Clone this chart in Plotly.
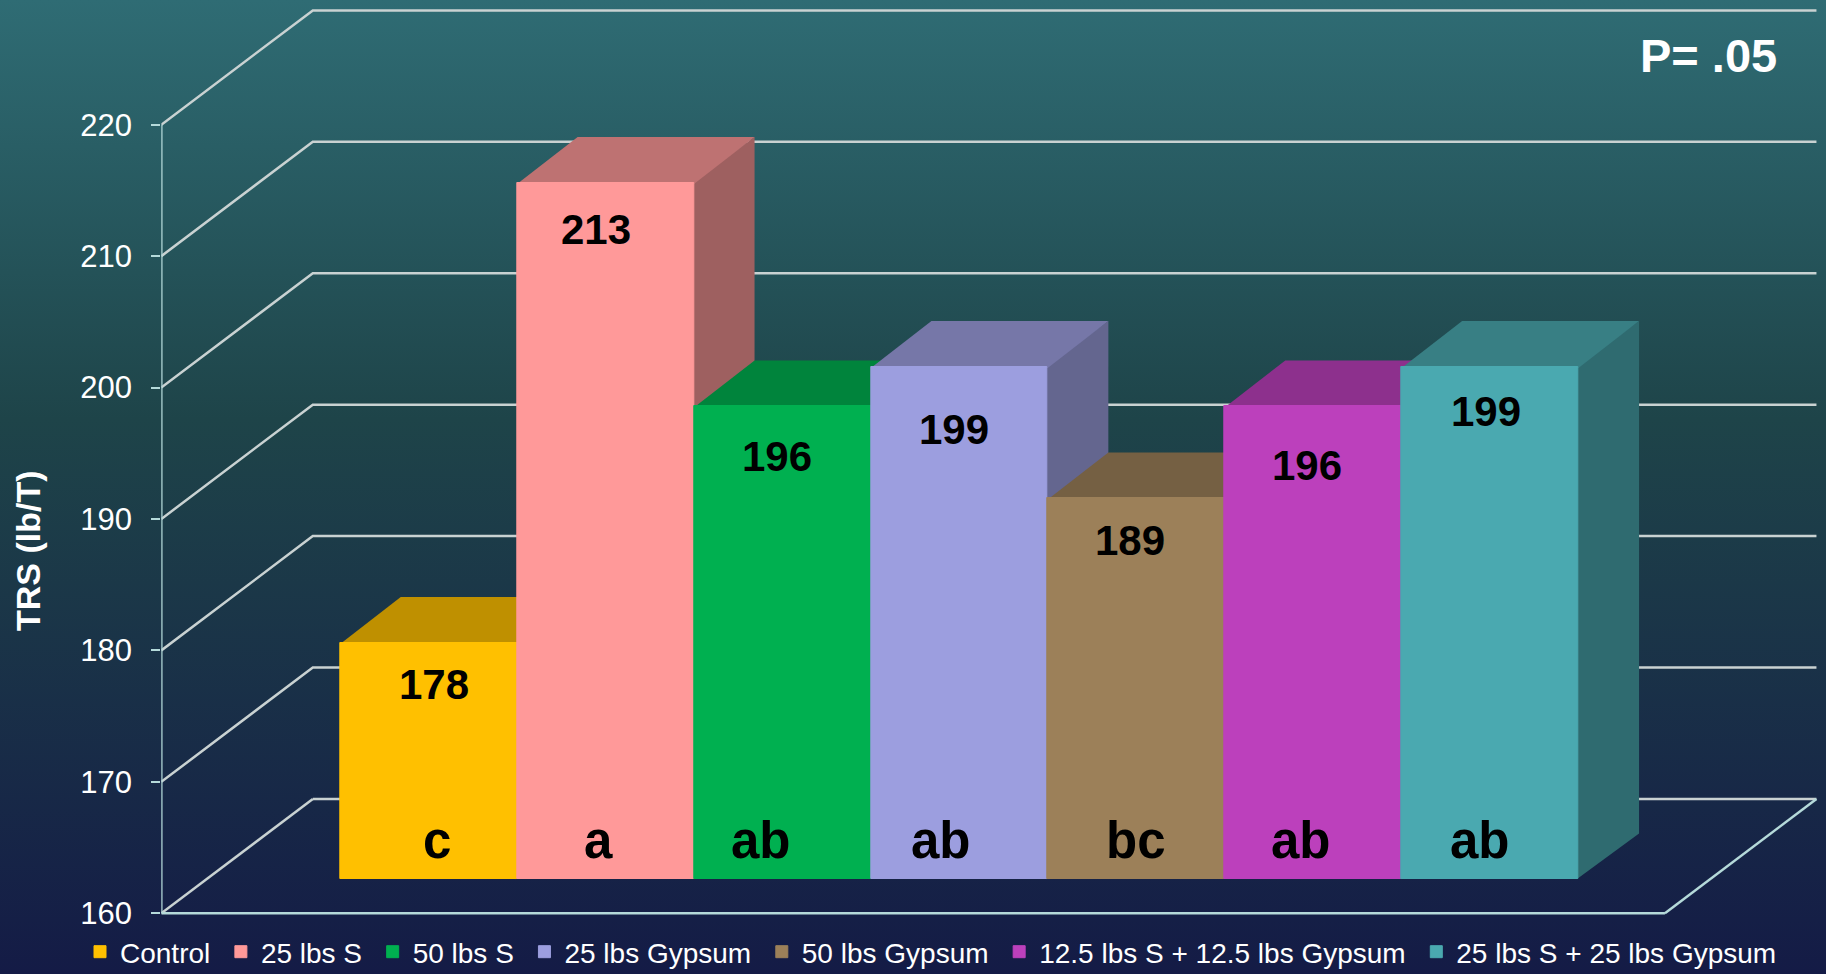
import base64
import plotly.graph_objects as go

categories = ["Control", "25 lbs S", "50 lbs S", "25 lbs Gypsum", "50 lbs Gypsum",
              "12.5 lbs S + 12.5 lbs Gypsum", "25 lbs S + 25 lbs Gypsum"]
values = [178, 213, 196, 199, 189, 196, 199]
letters = ["c", "a", "ab", "ab", "bc", "ab", "ab"]
y_ticks = [160, 170, 180, 190, 200, 210, 220]

front_colors = ["#FFC000", "#FF9999", "#00B050", "#9C9EDF", "#9C8059", "#BC40BC", "#4AA9B0"]
top_colors = ["#BF9000", "#BE7272", "#00843C", "#7677A8", "#756043", "#8D308D", "#387F84"]
side_colors = ["#9E7700", "#9E6060", "#006D31", "#64668F", "#615037", "#752875", "#2F6B70"]

W, H = 1826, 974
UX, UY = 176.9, 13.143           # px per category / per TRS unit
X0_PX, Y160_PX = 428.6, 913.3    # px of category 0 and of 160 on the front plane
AXIS_PX = 161.3
DEPTH_X, DEPTH_Y = 0.8564, 8.7   # oblique vector of the full chart depth, in axis units
BAR_D0, BAR_D1 = 0.2975, 0.6975  # bar front and rear depth
WALL_L = (AXIS_PX - X0_PX) / UX  # front plane floor ends
WALL_R = WALL_L + 8.5

value_label_px = [(433.8, 684), (596, 229.5), (777, 457), (954, 430), (1130, 540), (1306.6, 466), (1486, 411)]
letter_label_px = [(436.5, 840), (598, 840), (761, 840), (941, 840), (1136, 840), (1300.7, 840), (1480, 840)]

GRID = "#C9D2D2"
AXIS = "#B5DADA"


def poly(pts, color):
    d = "M" + " L".join(f"{x},{y}" for x, y in pts) + " Z"
    return dict(type="path", path=d, xref="x", yref="y", fillcolor=color, line=dict(width=0), layer="below")


def line(pts, color, width=2.5):
    d = "M" + " L".join(f"{x},{y}" for x, y in pts)
    return dict(type="path", path=d, xref="x", yref="y", line=dict(color=color, width=width), layer="below")


shapes = []
for v in y_ticks[1:]:
    shapes.append(line([(WALL_L, v), (WALL_L + DEPTH_X, v + DEPTH_Y), (WALL_R + DEPTH_X, v + DEPTH_Y)], GRID))
# floor
shapes.append(line([(WALL_L, 160), (WALL_L + DEPTH_X, 160 + DEPTH_Y)], GRID))
shapes.append(line([(WALL_L + DEPTH_X, 160 + DEPTH_Y), (WALL_R + DEPTH_X, 160 + DEPTH_Y)], GRID))
shapes.append(line([(WALL_R, 160), (WALL_R + DEPTH_X, 160 + DEPTH_Y)], AXIS))
shapes.append(line([(WALL_L, 160), (WALL_R, 160)], AXIS))
shapes.append(line([(WALL_L, 160), (WALL_L, 220)], AXIS))

shift = BAR_D0 * DEPTH_Y
dx = (BAR_D1 - BAR_D0) * DEPTH_X
dy = (BAR_D1 - BAR_D0) * DEPTH_Y
lap_x, lap_y = 0.01, 0.1  # side and top faces tuck under the front face
for i, v in enumerate(values):
    t = v + shift
    b = 160 + shift
    shapes.append(poly([(i + .5 - lap_x, b), (i + .5 + dx, b + dy), (i + .5 + dx, t + dy), (i + .5 - lap_x, t)], side_colors[i]))
    shapes.append(poly([(i - .5, t - lap_y), (i + .5, t - lap_y), (i + .5 + dx, t + dy), (i - .5 + dx, t + dy)], top_colors[i]))

fig = go.Figure()
for i, v in enumerate(values):
    nm = categories[i] + ("\u2009" if i < len(values) - 1 else "")
    fig.add_trace(go.Bar(x=[i], y=[v - 160], base=[160 + shift], width=1, name=nm,
                         marker=dict(color=front_colors[i], line=dict(width=1, color=front_colors[i])),
                         hovertemplate=f"{categories[i]}: {v}<extra></extra>"))

ann = []
for (px, py), v in zip(value_label_px, values):
    ann.append(dict(xref="paper", yref="paper", x=px / W, y=1 - py / H, text=f"<b>{v}</b>", showarrow=False,
                    font=dict(size=42, color="black", family="Liberation Sans"), xanchor="center", yanchor="middle"))
for (px, py), s in zip(letter_label_px, letters):
    ann.append(dict(xref="paper", yref="paper", x=px / W, y=1 - py / H, text=f"<b>{s}</b>", showarrow=False,
                    font=dict(size=51, color="black", family="Liberation Sans"), xanchor="center", yanchor="middle"))
ann.append(dict(xref="paper", yref="paper", x=1708 / W, y=1 - 56 / H, text="<b>P= .05</b>", showarrow=False,
                font=dict(size=47, color="white", family="Liberation Sans"), xanchor="center", yanchor="middle"))
ann.append(dict(xref="paper", yref="paper", x=28 / W, y=1 - 551 / H, text="<b>TRS (lb/T)</b>", showarrow=False,
                textangle=-90, font=dict(size=34, color="white", family="Liberation Sans"),
                xanchor="center", yanchor="middle"))

svg = ('<svg xmlns="http://www.w3.org/2000/svg" width="100" height="974" preserveAspectRatio="none">'
       '<defs><linearGradient id="g" x1="0" y1="0" x2="0" y2="1">'
       '<stop offset="0" stop-color="#2F6C74"/><stop offset="0.43" stop-color="#1E4449"/>'
       '<stop offset="1" stop-color="#141B46"/></linearGradient></defs>'
       '<rect width="100" height="974" fill="url(#g)"/></svg>')
src = "data:image/svg+xml;base64," + base64.b64encode(svg.encode()).decode()

fig.update_layout(
    width=W, height=H, margin=dict(l=0, r=0, t=0, b=0, autoexpand=False),
    paper_bgcolor="#141B46", plot_bgcolor="rgba(0,0,0,0)",
    images=[dict(source=src, xref="paper", yref="paper", x=0, y=1, sizex=1, sizey=1,
                 sizing="stretch", layer="below", xanchor="left", yanchor="top")],
    shapes=shapes, annotations=ann, barmode="overlay", bargap=0,
    font=dict(family="Liberation Sans", color="white"),
    legend=dict(orientation="h", x=80 / W, xanchor="left", y=1 - 927 / H, yanchor="top",
                font=dict(size=28, color="white", family="Liberation Sans"),
                bgcolor="rgba(0,0,0,0)", borderwidth=0),
    xaxis=dict(domain=[AXIS_PX / W, 1], range=[(AXIS_PX - X0_PX) / UX, (W - X0_PX) / UX], visible=False, fixedrange=True),
    yaxis=dict(domain=[0, 1], range=[160 - (H - Y160_PX) / UY, 160 + Y160_PX / UY],
               tickmode="array", tickvals=y_ticks, ticktext=[str(t) for t in y_ticks],
               ticks="outside", ticklen=9, tickwidth=2, tickcolor=AXIS, ticklabelstandoff=13,
               tickfont=dict(size=31, color="white", family="Liberation Sans"),
               showgrid=False, zeroline=False, showline=False, fixedrange=True),
)
fig.write_html("out.html", config={"displayModeBar": False},
               post_script="document.body.style.margin='0';document.body.style.overflow='hidden';")
